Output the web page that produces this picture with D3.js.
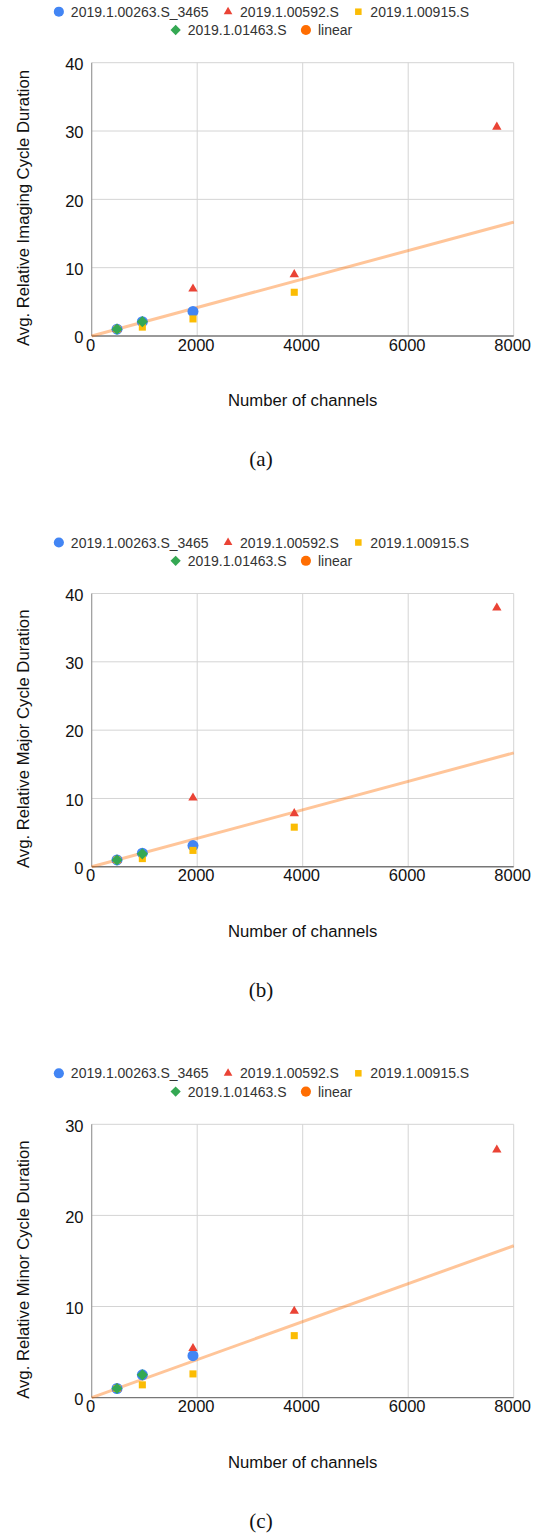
<!DOCTYPE html>
<html><head><meta charset="utf-8">
<script src="https://cdn.jsdelivr.net/npm/d3@7"></script>
<style>body{margin:0;background:#fff}svg{display:block}</style>
</head><body>
<svg id="c" width="543" height="1534"></svg>
<script>
// ---- data ----
const channels = [480, 960, 1920, 3840, 7680];
const seriesNames = ["2019.1.00263.S_3465", "2019.1.00592.S", "2019.1.00915.S", "2019.1.01463.S", "linear"];
const seriesColors = ["#4285F4", "#EA4335", "#FBBC04", "#34A853", "#FF6D01"];
const seriesShapes = ["circle", "triangle", "square", "diamond", "circle"];
const linearX = [0, 8000];
const linearY = [0, 16.67];
const xTicks = [0, 2000, 4000, 6000, 8000];

// (a) imaging cycle
const imaging00263 = [1.0, 2.1, 3.6, null, null];
const imaging00592 = [1.0, null, 6.9, 9.0, 30.6];
const imaging00915 = [1.0, 1.3, 2.5, 6.4, null];
const imaging01463 = [1.0, 2.1, null, null, null];
const imagingTicks = [0, 10, 20, 30, 40];
// (b) major cycle
const major00263 = [1.0, 2.0, 3.1, null, null];
const major00592 = [1.0, null, 10.1, 7.8, 37.9];
const major00915 = [1.0, 1.2, 2.4, 5.8, null];
const major01463 = [1.0, 1.9, null, null, null];
const majorTicks = [0, 10, 20, 30, 40];
// (c) minor cycle
const minor00263 = [1.0, 2.5, 4.6, null, null];
const minor00592 = [1.0, null, 5.4, 9.5, 27.2];
const minor00915 = [1.0, 1.4, 2.6, 6.8, null];
const minor01463 = [1.0, 2.5, null, null, null];
const minorTicks = [0, 10, 20, 30];

const panels = [
  {title: "Avg. Relative Imaging Cycle Duration", caption: "(a)", ticks: imagingTicks,
   series: [imaging00263, imaging00592, imaging00915, imaging01463]},
  {title: "Avg. Relative Major Cycle Duration", caption: "(b)", ticks: majorTicks,
   series: [major00263, major00592, major00915, major01463]},
  {title: "Avg. Relative Minor Cycle Duration", caption: "(c)", ticks: minorTicks,
   series: [minor00263, minor00592, minor00915, minor01463]}
];

// ---- drawing ----
const svg = d3.select("#c");
const SANS = "'Liberation Sans', Arial, sans-serif";
const PANEL_H = 530.8;
const L = 91.7, R = 513.7, T = 62.7, B = 336;

function symbolPath(shape, big) {
  const s = big ? 1 : 0.85;
  if (shape === "circle") return d3.symbol(d3.symbolCircle, 95 * s)();
  if (shape === "triangle") return d3.symbol(d3.symbolTriangle, 38 * s)();
  if (shape === "square") return d3.symbol(d3.symbolSquare, 50 * s)();
  return d3.symbol(d3.symbolSquare, 62 * s)();
}
function symRot(shape) { return shape === "diamond" ? " rotate(45)" : ""; }

panels.forEach((p, i) => {
  const g = svg.append("g").attr("transform", `translate(0,${i * PANEL_H})`);
  const x = d3.scaleLinear().domain([0, 8000]).range([L, R]);
  const y = d3.scaleLinear().domain([0, d3.max(p.ticks)]).range([B, T]);

  // legend
  const leg = g.append("g").attr("font-family", SANS).attr("font-size", 14).attr("fill", "#333");
  const rows = [[0, 1, 2], [3, 4]];
  const rowY = [11.7, 30];
  rows.forEach((row, ri) => {
    const rg = leg.append("g");
    let cx = 0;
    row.forEach((k, j) => {
      const it = rg.append("g").attr("transform", `translate(${cx},${rowY[ri]})`);
      it.append("path").attr("d", symbolPath(seriesShapes[k], false))
        .attr("transform", "translate(0,0)" + symRot(seriesShapes[k]))
        .attr("fill", seriesColors[k]);
      const t = it.append("text").attr("x", 12).attr("y", 5).text(seriesNames[k]);
      const w = t.node().getComputedTextLength();
      cx += 12 + w + 19.4;
    });
    const bb = rg.node().getBBox();
    const center = 261.5;
    rg.attr("transform", `translate(${center - (bb.x + bb.width / 2)},0)`);
  });

  // gridlines
  g.append("g").selectAll("line.h").data(p.ticks.filter(d => d > 0)).join("line")
    .attr("x1", L).attr("x2", R).attr("y1", d => y(d)).attr("y2", d => y(d))
    .attr("stroke", "#d4d4d4").attr("stroke-width", 1);
  g.append("g").selectAll("line.v").data(xTicks.filter(d => d > 0)).join("line")
    .attr("y1", T).attr("y2", B).attr("x1", d => x(d)).attr("x2", d => x(d))
    .attr("stroke", "#d4d4d4").attr("stroke-width", 1);

  // axes lines
  g.append("line").attr("x1", L).attr("x2", L).attr("y1", T).attr("y2", B).attr("stroke", "#999").attr("stroke-width", 1.2);
  g.append("line").attr("x1", L).attr("x2", R).attr("y1", B).attr("y2", B).attr("stroke", "#777").attr("stroke-width", 1.4);

  // tick labels
  g.append("g").attr("font-family", SANS).attr("font-size", 16.5).attr("fill", "#111")
    .selectAll("text").data(p.ticks).join("text")
    .attr("x", 83.5).attr("y", d => y(d) + 7.3).attr("text-anchor", "end").text(d => d);
  g.append("g").attr("font-family", SANS).attr("font-size", 16.5).attr("fill", "#111")
    .selectAll("text").data(xTicks).join("text")
    .attr("x", d => x(d) - 1).attr("y", B + 14.5).attr("text-anchor", "middle").text(d => d);

  // axis titles
  g.append("text").attr("font-family", SANS).attr("font-size", 16.7).attr("fill", "#111")
    .attr("x", (L + R) / 2).attr("y", 406).attr("text-anchor", "middle").text("Number of channels");
  g.append("text").attr("font-family", SANS).attr("font-size", 16.7).attr("fill", "#111")
    .attr("transform", `translate(29,208) rotate(-90)`).attr("text-anchor", "middle").text(p.title);

  // linear trend
  g.append("path").datum(linearX.map((v, k) => [v, linearY[k]]))
    .attr("d", d3.line().x(d => x(d[0])).y(d => y(d[1])))
    .attr("stroke", "#FF6D01").attr("stroke-opacity", 0.4).attr("stroke-width", 3).attr("fill", "none");

  // points
  p.series.forEach((vals, k) => {
    g.append("g").selectAll("path").data(channels.map((c, j) => [c, vals[j]]).filter(d => d[1] != null))
      .join("path")
      .attr("d", symbolPath(seriesShapes[k], true))
      .attr("transform", d => `translate(${x(d[0])},${y(d[1])})` + symRot(seriesShapes[k]))
      .attr("fill", seriesColors[k]);
  });

  // caption
  g.append("text").attr("font-family", "'Liberation Serif', 'DejaVu Serif', serif").attr("font-size", 21)
    .attr("x", 261).attr("y", 466).attr("text-anchor", "middle").attr("fill", "#111").text(p.caption);
});
</script>
</body></html>
